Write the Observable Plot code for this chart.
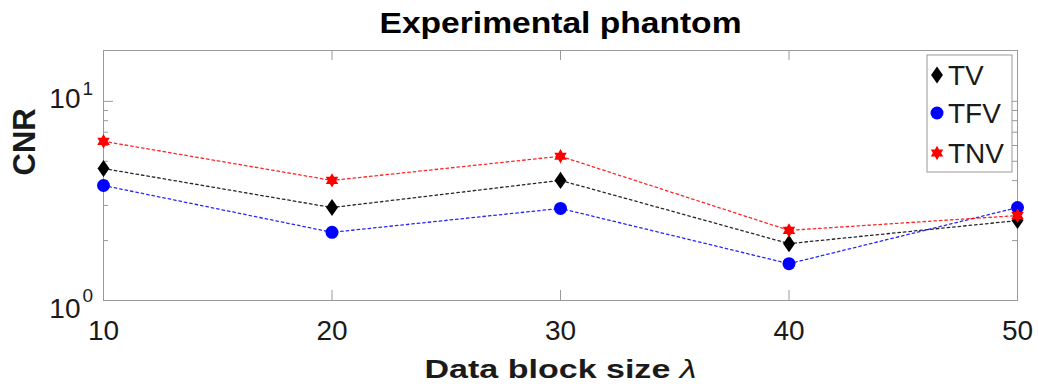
<!DOCTYPE html>
<html><head><meta charset="utf-8">
<script src="https://cdn.jsdelivr.net/npm/d3@7"></script>
<script src="https://cdn.jsdelivr.net/npm/@observablehq/plot@0.6"></script>
<style>
body{margin:0;background:#fff}
svg{font-family:"Liberation Sans",Arial,Helvetica,sans-serif}
</style>
</head><body><div id="chart"></div>
<script>
// ---- data ----
const blockSizes = [10, 20, 30, 40, 50];
const tvValues  = [4.6, 2.93, 4.01, 1.93, 2.52];
const tfvValues = [3.78, 2.20, 2.90, 1.53, 2.93];
const tnvValues = [6.3, 4.01, 5.3, 2.25, 2.67];
const seriesNames = ["TV", "TFV", "TNV"];
const seriesColors = ["#000000", "#0000ff", "#ff0000"];
const xTicks = [10, 20, 30, 40, 50];
const yMajorTicks = [1, 10];
const yMinorTicks = [2, 3, 4, 5, 6, 7, 8, 9];
const yDomain = [1, 18];
const titleText = "Experimental phantom";
const xLabelText = "Data block size ";
const xLabelSymbol = "\u03BB";
const yLabelText = "CNR";

// ---- layout ----
const W = 1038, H = 390;
const mL = 103, mR = 21, mT = 50, mB = 90;
const pw = W - mL - mR, ph = H - mT - mB;
const axisGray = "#9a9a9a";
const textColor = "#1a1a1a";

// custom symbols
const diamondSym = {draw(ctx, size) {
  const r = Math.sqrt(size / Math.PI), w = r * 0.85, h = r * 1.22;
  ctx.moveTo(0, -h); ctx.lineTo(w, 0); ctx.lineTo(0, h); ctx.lineTo(-w, 0); ctx.closePath();
}};
const hexagramSym = {draw(ctx, size) {
  const r = Math.sqrt(size / Math.PI), ri = r / Math.sqrt(3);
  for (let i = 0; i < 12; i++) {
    const a = -Math.PI / 2 + i * Math.PI / 6, rr = i % 2 === 0 ? r : ri;
    const px = rr * Math.cos(a), py = rr * Math.sin(a);
    if (i) ctx.lineTo(px, py); else ctx.moveTo(px, py);
  }
  ctx.closePath();
}};
const seriesSymbols = [diamondSym, "circle", hexagramSym];
const seriesR = [7, 6.5, 7.2];
const seriesValues = [tvValues, tfvValues, tnvValues];

const seriesData = seriesValues.map(vals => blockSizes.map((x, i) => ({x, y: vals[i]})));

const marks = [
  Plot.frame({stroke: axisGray, strokeWidth: 1}),
  // inward ticks
  Plot.tickX(xTicks, {x: d => d, insetTop: ph - 10, stroke: axisGray}),
  Plot.tickX(xTicks, {x: d => d, insetBottom: ph - 10, stroke: axisGray}),
  Plot.tickY(yMajorTicks, {y: d => d, insetRight: pw - 10, stroke: axisGray}),
  Plot.tickY(yMajorTicks, {y: d => d, insetLeft: pw - 10, stroke: axisGray}),
  Plot.tickY(yMinorTicks, {y: d => d, insetRight: pw - 5, stroke: axisGray}),
  Plot.tickY(yMinorTicks, {y: d => d, insetLeft: pw - 5, stroke: axisGray}),
  // x tick labels
  Plot.text(xTicks, {x: d => d, text: d => String(d), frameAnchor: "bottom", lineAnchor: "middle", dy: 31, fontSize: 28, fill: textColor}),
  // y tick labels 10^n
  Plot.text(yMajorTicks.filter(d => d === 1), {y: d => d, text: () => "10", frameAnchor: "left", lineAnchor: "middle", textAnchor: "end", dx: -23, dy: 9, fontSize: 28, fill: textColor}),
  Plot.text(yMajorTicks.filter(d => d === 1), {y: d => d, text: d => String(Math.round(Math.log10(d))), frameAnchor: "left", lineAnchor: "middle", textAnchor: "start", dx: -21, dy: -5, fontSize: 19, fill: textColor}),
  Plot.text(yMajorTicks.filter(d => d !== 1), {y: d => d, text: () => "10", frameAnchor: "left", lineAnchor: "middle", textAnchor: "end", dx: -23, dy: -2, fontSize: 28, fill: textColor}),
  Plot.text(yMajorTicks.filter(d => d !== 1), {y: d => d, text: d => String(Math.round(Math.log10(d))), frameAnchor: "left", lineAnchor: "middle", textAnchor: "start", dx: -21, dy: -12, fontSize: 19, fill: textColor}),
  // titles
  Plot.text([titleText], {text: d => d, frameAnchor: "top", lineAnchor: "middle", dy: -27, fontSize: 29, fontWeight: "bold", fill: "#000"}),
  Plot.text([xLabelText], {text: d => d, frameAnchor: "bottom", lineAnchor: "middle", dy: 69, fontSize: 26, fontWeight: "bold", fill: textColor}),
  Plot.text([yLabelText], {text: d => d, frameAnchor: "left", lineAnchor: "middle", dx: -78, rotate: -90, fontSize: 31, fontWeight: "bold", fill: textColor}),
];
seriesData.forEach((data, k) => {
  marks.push(Plot.line(data, {x: "x", y: "y", stroke: seriesColors[k], strokeWidth: 1.3, strokeOpacity: 0.85, strokeDasharray: "2.5,3"}));
});
seriesData.forEach((data, k) => {
  marks.push(Plot.dot(data, {x: "x", y: "y", symbol: seriesSymbols[k], r: seriesR[k], fill: seriesColors[k], stroke: "none"}));
});

const chart = Plot.plot({
  width: W, height: H,
  marginLeft: mL, marginRight: mR, marginTop: mT, marginBottom: mB,
  style: {background: "#fff", overflow: "visible"},
  x: {type: "linear", domain: [10, 50], axis: null},
  y: {type: "log", domain: yDomain, axis: null},
  marks
});
document.getElementById("chart").appendChild(chart);

// stretch title and x label to the reference's wider text, add italic lambda
d3.select(chart).selectAll("text").each(function() {
  if (this.textContent === xLabelText) {
    d3.select(this).append("tspan").attr("font-style", "italic").attr("font-weight", "normal").text(xLabelSymbol);
    d3.select(this).attr("textLength", 272).attr("lengthAdjust", "spacingAndGlyphs");
  } else if (this.textContent === titleText) {
    d3.select(this).attr("textLength", 362).attr("lengthAdjust", "spacingAndGlyphs");
  }
});

// legend
const lg = d3.select(chart).append("g").attr("class", "legend").attr("text-anchor", "start");
const lx = 927, ly = 55, lw = 85, lh = 117;
lg.append("rect").attr("x", lx).attr("y", ly).attr("width", lw).attr("height", lh)
  .attr("fill", "#fff").attr("stroke", axisGray).attr("stroke-width", 1);
const rowY = [75, 113, 153];
seriesNames.forEach((name, k) => {
  const type = seriesSymbols[k] === "circle" ? d3.symbolCircle : seriesSymbols[k];
  const r = seriesR[k];
  lg.append("path").attr("transform", `translate(${lx + 10},${rowY[k]})`)
    .attr("d", d3.symbol().type(type).size(Math.PI * r * r)())
    .attr("fill", seriesColors[k]);
  lg.append("text").attr("x", lx + 21).attr("y", rowY[k] + 10).attr("text-anchor", "start")
    .attr("font-size", 28).attr("fill", textColor).text(name);
});
</script>
</body></html>
